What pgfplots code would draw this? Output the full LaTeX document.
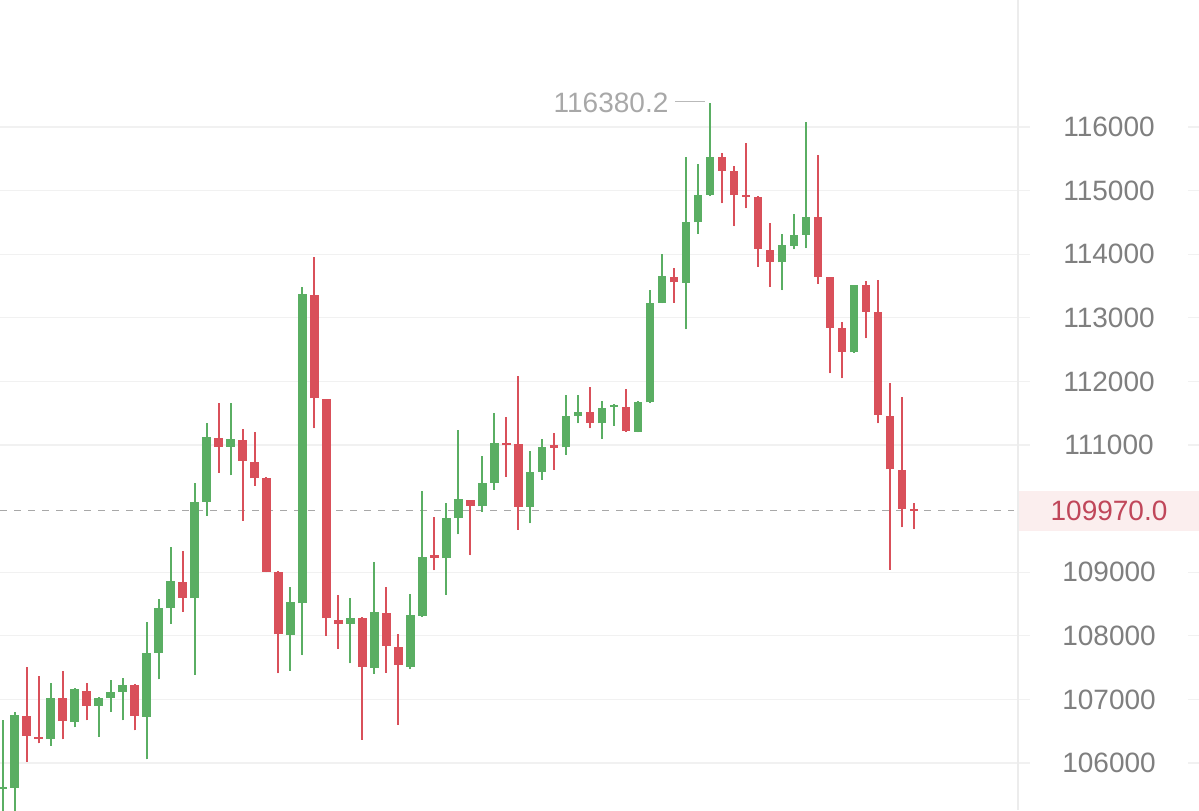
\documentclass[border=0pt]{standalone}
\usepackage{fontspec}
\setmainfont{Liberation Sans}
\usepackage{pgfplots}
\usepackage{pgfplotstable}
\pgfplotsset{compat=1.18}
\definecolor{upc}{HTML}{5AAE63}
\definecolor{dnc}{HTML}{D9505A}
\definecolor{gridc}{HTML}{F1F1F1}
\definecolor{divc}{HTML}{ECECEC}
\definecolor{tickc}{HTML}{7F7F7F}
\definecolor{annc}{HTML}{A8A8A8}
\definecolor{pricebg}{HTML}{FBEEEE}
\definecolor{pricered}{HTML}{C0475A}
% up candles: index open high low close
\pgfplotstableread{
i o h l c
0 105590 106676 105150 105620
1 105607 106802 105150 106755
4 106377 107253 106272 107027
6 106644 107175 106566 107162
8 106896 107043 106414 107027
9 107017 107305 106802 107122
10 107122 107332 106676 107226
12 106729 108212 106058 107735
13 107735 108575 107316 108433
14 108433 109401 108186 108862
16 108590 110398 107384 110109
17 110109 111351 109889 111130
19 110973 111656 110528 111089
24 108013 108772 107452 108527
25 108511 113480 107698 113370
29 108186 108590 107568 108285
31 107499 109165 107400 108380
34 107515 108657 107473 108327
35 108316 110282 108300 109234
37 109218 110083 108642 109857
38 109857 111236 109596 110146
40 110036 110832 109951 110408
41 110408 111508 110293 111027
44 110030 110911 109769 110581
45 110581 111090 110450 110964
47 110964 111786 110843 111456
48 111456 111790 111341 111524
50 111342 111692 111095 111587
51 111595 111645 111299 111635
53 111209 111690 111200 111681
54 111671 113437 111660 113237
55 113237 114003 113230 113662
57 113552 115524 112819 114502
58 114502 115414 114318 114931
59 114931 116380 114920 115533
65 113873 114318 113437 114145
66 114134 114627 114077 114302
67 114302 116084 114093 114590
71 112457 113520 112450 113516
}\up
% down candles: index open high low close
\pgfplotstableread{
i o h l c
2 106744 107515 106020 106425
3 106414 107373 106310 106377
5 107017 107452 106377 106660
7 107137 107253 106676 106901
11 107226 107237 106513 106744
15 108852 109338 108380 108601
18 111115 111656 110565 110973
20 111079 111252 109810 110753
21 110738 111209 110360 110476
22 110476 110490 109000 109008
23 109008 109015 107410 108024
26 113359 113951 111263 111734
27 111719 111730 108002 108275
28 108249 108642 107793 108186
30 108285 108300 106362 107515
32 108365 108772 107421 107841
33 107830 108029 106598 107542
36 109265 109873 109030 109225
39 110135 110140 109270 110041
42 111035 111445 110502 110995
43 111011 112090 109664 110030
46 110995 111194 110607 110955
49 111524 111907 111263 111351
52 111593 111876 111209 111220
56 113646 113778 113237 113558
60 115533 115586 114800 115313
61 115313 115387 114443 114931
62 114930 115753 114722 114900
63 114904 114910 113804 114082
64 114066 114496 113489 113882
68 114590 115560 113532 113647
69 113637 113640 112127 112844
70 112835 112929 112049 112467
72 113516 113583 112678 113096
73 113096 113594 111341 111472
74 111461 111970 109035 110618
75 110607 111750 109706 109994
76 110000 110083 109679 109970
}\down
\pgfplotsset{
  candle/.style={only marks, mark=*, mark size=0pt,
    mark options={draw=none, fill=none}, forget plot,
    error bars/.cd, y dir=plus, y explicit, error mark=none},
}
\begin{document}
\begin{tikzpicture}
\path[use as bounding box] (0,0) rectangle (599.5pt,405pt);
\begin{axis}[
  at={(0,0)}, anchor=south west,
  scale only axis, width=599.5pt, height=405pt,
  xmin=-0.225, xmax=99.77, ymin=105261, ymax=117997,
  axis line style={draw=none},
  xtick=\empty,
  ytick={106000,107000,108000,109000,111000,112000,113000,114000,115000,116000},
  yticklabels={106000,107000,108000,109000,111000,112000,113000,114000,115000,116000},
  /pgf/number format/assume math mode=true,
  ymajorgrids, major grid style={gridc, line width=0.6pt},
  major tick length=0pt,
  yticklabel pos=right,
  yticklabel style={anchor=center, xshift=-45pt, fill=white, text=tickc,
    minimum width=79pt, minimum height=12pt, inner sep=0pt,
    font=\fontsize{14pt}{16pt}\selectfont},
  extra y ticks={109970}, extra y tick labels={109970.0},
  extra y tick style={ymajorgrids=false,
    yticklabel style={fill=pricebg, text=pricered, minimum width=90.5pt, minimum height=20pt}},
]
% divider between plot and price scale
\addplot[color=divc, line width=1pt, forget plot]
  coordinates {(84.68,105261) (84.68,117997)};
% current price dashed line
\addplot[color=annc, line width=0.8pt, dash pattern=on 3.5pt off 3.5pt, forget plot]
  coordinates {(-0.225,109970) (84.3,109970)};
% wicks
\addplot[candle, error bar style={line width=1pt, color=upc}]
  table[x=i, y=l, y error expr=\thisrow{h}-\thisrow{l}] {\up};
\addplot[candle, error bar style={line width=1pt, color=dnc}]
  table[x=i, y=l, y error expr=\thisrow{h}-\thisrow{l}] {\down};
% bodies
\addplot[candle, error bar style={line width=4.2pt, color=upc}]
  table[x=i, y=o, y error expr=\thisrow{c}-\thisrow{o}] {\up};
\addplot[candle, error bar style={line width=4.2pt, color=dnc}]
  table[x=i, y=c, y error expr=\thisrow{o}-\thisrow{c}] {\down};
% high annotation
\draw[color=annc!80, line width=0.5pt] (axis cs:56.07,116400) -- (axis cs:58.58,116400);
\node[anchor=east, inner sep=0pt, text=annc, font=\fontsize{14pt}{16pt}\selectfont]
  at (axis cs:55.55,116380) {116380.2};
\end{axis}
\end{tikzpicture}
\end{document}
